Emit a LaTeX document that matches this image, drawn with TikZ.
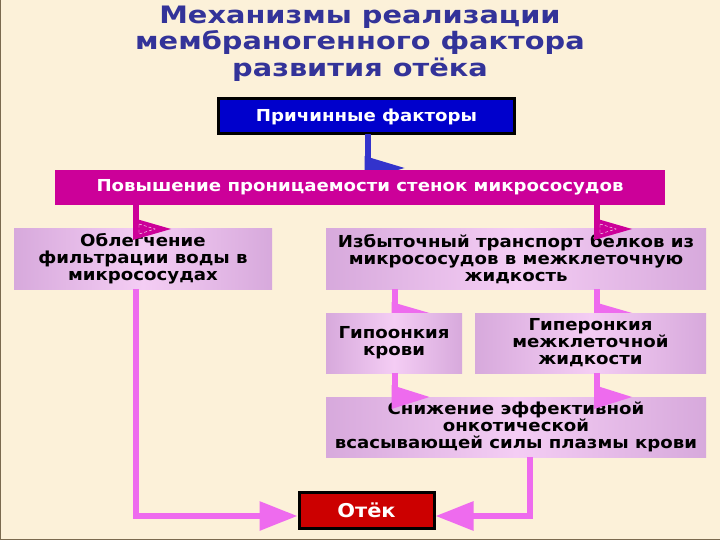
\documentclass[tikz,border=0pt]{standalone}
\usepackage{fontspec}
\setmainfont{DejaVu Sans}
\newfontfamily\widefont{DejaVu Sans}[FakeStretch=1.1]
\newfontfamily\titlefont{DejaVu Sans}[FakeStretch=1.2]
\usetikzlibrary{calc,arrows.meta}
\definecolor{bgc}{HTML}{FCF1D9}
\definecolor{navy}{HTML}{333399}
\definecolor{bluebox}{HTML}{0000CC}
\definecolor{blueline}{HTML}{3333CC}
\definecolor{magenta}{HTML}{CC0099}
\definecolor{lpink}{HTML}{EE6BEE}
\definecolor{edgev}{HTML}{D7A9DC}
\definecolor{midv}{HTML}{F4CDF4}
\definecolor{redbox}{HTML}{CC0000}
\definecolor{framec}{HTML}{7A6A4F}
\tikzset{
  gbox/.style={rectangle, inner sep=0pt, outer sep=0pt, left color=edgev, right color=edgev, middle color=midv,
    font=\widefont\bfseries\fontsize{16.5}{17}\selectfont, align=center, text=black},
  dbox/.style={rectangle, inner sep=0pt, outer sep=0pt, draw=black, line width=3pt, text=white,
    font=\widefont\bfseries\fontsize{16.5}{18}\selectfont, align=center},
  mshaft/.style={draw=magenta, line width=6pt},
  lshaft/.style={draw=lpink, line width=6pt, line join=miter},
  bigtip/.style={-{Triangle[length=38pt,width=28pt]}},
}
\begin{document}
\begin{tikzpicture}[x=1pt,y=-1pt]
\fill[bgc] (0,0) rectangle (720,540);
\useasboundingbox (0,0) rectangle (720,540);
\draw[framec, line width=2.5pt] (0,0) -- (0,540) -- (720,540);
\draw[framec!50, line width=1pt] (0,0) -- (720,0);

% title
\node[text=navy, font=\titlefont\bfseries\fontsize{24}{26.5}\selectfont, align=center, anchor=north] (title) at (360,2)
  {Механизмы реализации\\мембраногенного фактора\\развития отёка};

% boxes
\node[dbox, fill=bluebox, minimum width=296pt, minimum height=35pt] (cause) at (366.5,116.5) {Причинные факторы};

% blue connector (behind bar)
\coordinate (sb) at (367.5,0);
\draw[draw=blueline, line width=6pt] (cause.south -| sb) -- ++(0,28);
\fill[blueline] ($(cause.south -| sb)+(-3,22)$) -- ++(40,12) -- ++(-40,12) -- cycle;

\node[rectangle, fill=magenta, inner sep=0pt, minimum width=610pt, minimum height=35pt, text=white,
  font=\widefont\bfseries\fontsize{16.5}{18}\selectfont] (bar) at (360,187.5) {Повышение проницаемости стенок микрососудов};

\node[gbox, minimum width=258pt, minimum height=60pt] (obl) at (143,259) {Облегчение\\фильтрации воды в\\микрососудах};
\node[gbox, minimum width=380pt, minimum height=60pt] (izb) at (516,259) {Избыточный транспорт белков из\\микрососудов в межклеточную\\жидкость};

% row 1 arrows (on top of boxes)
\coordinate (s1) at (136,0);
\coordinate (s2) at (597,0);
\foreach \s/\t in {s1/obl, s2/izb}{
  \draw[mshaft] (bar.south -| \s) -- (\t.north -| \s);
  \fill[magenta] ($(\t.north -| \s)+(-3,-11)$) -- ++(38,11) -- ++(-38,11) -- cycle;
  \draw[white, densely dashed, line width=0.4pt] ($(\t.north -| \s)+(3,-5)$) -- ++(16,5) -- ++(-16,5) -- cycle;
}

% row 2 arrows (behind boxes)
\coordinate (s3) at (394.5,0);
\draw[lshaft] (izb.south -| s3) -- ++(0,24);
\fill[lpink] ($(izb.south -| s3)+(-3,13)$) -- ++(38,11) -- ++(-38,11) -- cycle;
\draw[lshaft] (izb.south -| s2) -- ++(0,24);
\fill[lpink] ($(izb.south -| s2)+(-3,13)$) -- ++(38,11) -- ++(-38,11) -- cycle;

\node[gbox, minimum width=136pt, minimum height=60pt] (hypo) at (394,343) {Гипоонкия\\крови};
\node[gbox, minimum width=231pt, minimum height=60pt] (hyper) at (590.5,343) {Гиперонкия\\межклеточной\\жидкости};

\node[gbox, minimum width=380pt, minimum height=60pt] (low) at (516,427) {Снижение эффективной\\онкотической\\всасывающей силы плазмы крови};

% row 3 arrows (on top)
\draw[lshaft] (hypo.south -| s3) -- (low.north -| s3);
\fill[lpink] ($(low.north -| s3)+(-3,-12)$) -- ++(38,12) -- ++(-38,12) -- cycle;
\draw[lshaft] (hyper.south -| s2) -- (low.north -| s2);
\fill[lpink] ($(low.north -| s2)+(-3,-12)$) -- ++(38,12) -- ++(-38,12) -- cycle;

% result
\node[dbox, fill=redbox, minimum width=135pt, minimum height=36pt, font=\widefont\bfseries\fontsize{19}{21}\selectfont] (otek) at (366.5,510) {Отёк};

\coordinate (s4) at (530,0);
\draw[lshaft, bigtip] (obl.south -| s1) |- ($(otek.west)+(-1.5,6)$);
\draw[lshaft, bigtip] (low.south -| s4) |- ($(otek.east)+(1.5,6)$);
\end{tikzpicture}
\end{document}
